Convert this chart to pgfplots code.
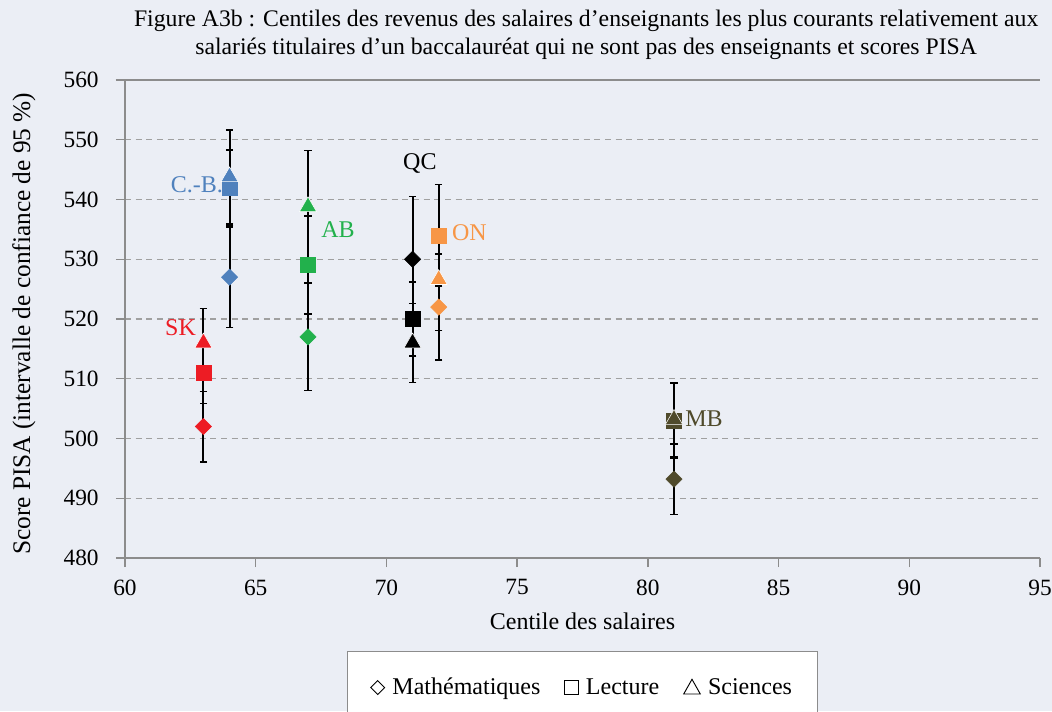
\documentclass[border=0pt]{standalone}
\usepackage{fontspec}
\setmainfont{Liberation Serif}
\usepackage{pgfplots}
\pgfplotsset{compat=1.18}
\definecolor{bg}{HTML}{EBEEF5}
\definecolor{axgray}{HTML}{8C8C8C}
\definecolor{gridgray}{HTML}{A0A0A0}
\definecolor{cSK}{HTML}{ED1C24}
\definecolor{cCB}{HTML}{4F81BD}
\definecolor{cAB}{HTML}{22B14C}
\definecolor{cQC}{HTML}{000000}
\definecolor{cON}{HTML}{F79646}
\definecolor{cMB}{HTML}{4F4A2B}
\newcommand\fs{\fontsize{17.5}{21}\selectfont}
\newcommand\fl{\fontsize{18}{21}\selectfont}
\pgfplotsset{
  dia/.style={forget plot, only marks, mark=square*, mark size=4.3pt, mark options={rotate=45, fill=#1, draw=#1}},
  sqr/.style={forget plot, only marks, mark=square*, mark size=5.6pt, mark options={fill=#1, draw=#1}},
  tri/.style={forget plot, only marks, mark=triangle*, mark size=7.4pt, mark options={fill=#1, draw=white, line width=0.4pt}},
}
\begin{document}
\begin{tikzpicture}[x=1pt,y=1pt]
\fill[bg] (-93.75,-114.75) rectangle (695.25,418.5);
\begin{axis}[
  at={(0,0)}, anchor=south west,
  scale only axis, width=686.25pt, height=358.5pt,
  xmin=60, xmax=95, ymin=480, ymax=560,
  xtick={60,65,...,95}, ytick={480,490,...,560},
  axis x line*=bottom, axis y line*=left,
  axis line style={draw=axgray, line width=1.1pt},
  tick style={draw=axgray, line width=1.1pt},
  major tick length=6.75pt, tick align=outside,
  ymajorgrids, grid style={draw=gridgray, line width=1.1pt, dash pattern=on 4.5pt off 3.5pt},
  /pgf/number format/assume math mode=true,
  tick label style={font=\fs},
  yticklabel style={xshift=-9.5pt},
  xticklabel style={yshift=-6pt},
  xlabel={Centile des salaires},
  ylabel={Score PISA (intervalle de confiance de 95 \%)},
  every axis x label/.style={at={(axis description cs:0.5,-0.1318)}, anchor=center, font=\fl},
  every axis y label/.style={at={(axis description cs:-0.1104,0.49)}, rotate=90, anchor=center, font=\fontsize{19}{22}\selectfont},
  legend columns=3,
  legend style={at={(axis description cs:0.5,-0.1946)}, anchor=north, draw=axgray, line width=0.8pt, fill=white, font=\fl, inner xsep=17pt, inner ysep=18pt,
    /tikz/every even column/.append style={column sep=16pt},
    /tikz/every odd column/.append style={column sep=3.5pt}},
  legend cell align=left,
  clip=false,
]
% legend entries
\addplot[only marks, mark=square*, mark size=3.8pt, mark options={rotate=45, draw=black, fill=white, line width=0.7pt},
  legend image code/.code={\draw[black, fill=white, line width=0.7pt] (0pt,-5.2pt) -- (5.2pt,0pt) -- (0pt,5.2pt) -- (-5.2pt,0pt) -- cycle;}] coordinates {(200,0)};
\addlegendentry{Mathématiques}
\addplot[only marks, mark=square*, mark size=5pt, mark options={draw=black, fill=white, line width=0.7pt},
  legend image code/.code={\draw[black, fill=white, line width=0.7pt] (-5pt,-5pt) rectangle (5pt,5pt);}] coordinates {(200,0)};
\addlegendentry{Lecture}
\addplot[only marks, mark=triangle*, mark size=6.5pt, mark options={draw=black, fill=white, line width=0.7pt},
  legend image code/.code={\draw[black, fill=white, line width=0.7pt] (-6.2pt,-4.8pt) -- (6.2pt,-4.8pt) -- (0pt,6.2pt) -- cycle;}] coordinates {(200,0)};
\addlegendentry{Sciences}
% top solid line
\draw[axgray, line width=1.1pt] ([xshift=-6.75pt]axis cs:60,560) -- (axis cs:95,560);
% error bars
\addplot[forget plot, only marks, mark=*, mark size=0pt,
  error bars/.cd, y dir=both, y explicit, error mark=|,
  error bar style={draw=black, line width=1.4pt},
  error mark options={draw=black, mark size=2.8pt, line width=1.1pt}]
  table[x=x, y=y, y error=e] {
x y e
63 502 5.9
63 511 5.1
63 516 5.8
64 527 8.4
64 542 6.3
64 543.8 7.8
67 517 9.0
67 529 8.2
67 538.8 9.4
71 530 10.5
71 520 6.2
71 516 6.6
72 522 8.9
72 534 8.5
72 526.6 8.5
81 493.2 5.9
81 503 6.3
81 503.2 6.2
};
% diamonds (math)
\addplot[dia=cSK] coordinates {(63,502)};
\addplot[dia=cCB] coordinates {(64,527)};
\addplot[dia=cAB] coordinates {(67,517)};
\addplot[dia=cQC] coordinates {(71,530)};
\addplot[dia=cON] coordinates {(72,522)};
\addplot[dia=cMB] coordinates {(81,493.2)};
% squares (reading)
\addplot[sqr=cSK] coordinates {(63,511)};
\addplot[sqr=cCB] coordinates {(64,542)};
\addplot[sqr=cAB] coordinates {(67,529)};
\addplot[sqr=cQC] coordinates {(71,520)};
\addplot[sqr=cON] coordinates {(72,534)};
\addplot[sqr=cMB] coordinates {(81,503)};
% triangles (science)
\addplot[tri=cSK] coordinates {(63,516)};
\addplot[tri=cCB] coordinates {(64,543.8)};
\addplot[tri=cAB] coordinates {(67,538.8)};
\addplot[tri=cQC] coordinates {(71,516)};
\addplot[tri=cON] coordinates {(72,526.6)};
\addplot[tri=cMB] coordinates {(81,503.2)};
% province labels
\node[anchor=east, text=cCB, font=\fl, inner sep=0pt] at (axis cs:63.75,542.5) {C.-B.};
\node[anchor=east, text=cSK, font=\fl, inner sep=0pt] at (axis cs:62.72,518.6) {SK};
\node[anchor=west, text=cAB, font=\fl, inner sep=0pt] at (axis cs:67.5,535.0) {AB};
\node[anchor=center, text=cQC, font=\fl, inner sep=0pt] at (axis cs:71.28,546.1) {QC};
\node[anchor=west, text=cON, font=\fl, inner sep=0pt] at (axis cs:72.5,534.5) {ON};
\node[anchor=west, text=cMB, font=\fl, inner sep=0pt] at (axis cs:81.42,503.4) {MB};
% title
\node[align=center, font=\fontsize{17.8}{21}\selectfont, anchor=center] at (axis description cs:0.504,1.094) {Figure A3b : Centiles des revenus des salaires d’enseignants les plus courants relativement aux\\salariés titulaires d’un baccalauréat qui ne sont pas des enseignants et scores PISA};
\end{axis}
\pgfresetboundingbox
\path[use as bounding box] (-93.75,-114.75) rectangle (695.25,418.5);
\end{tikzpicture}
\end{document}
